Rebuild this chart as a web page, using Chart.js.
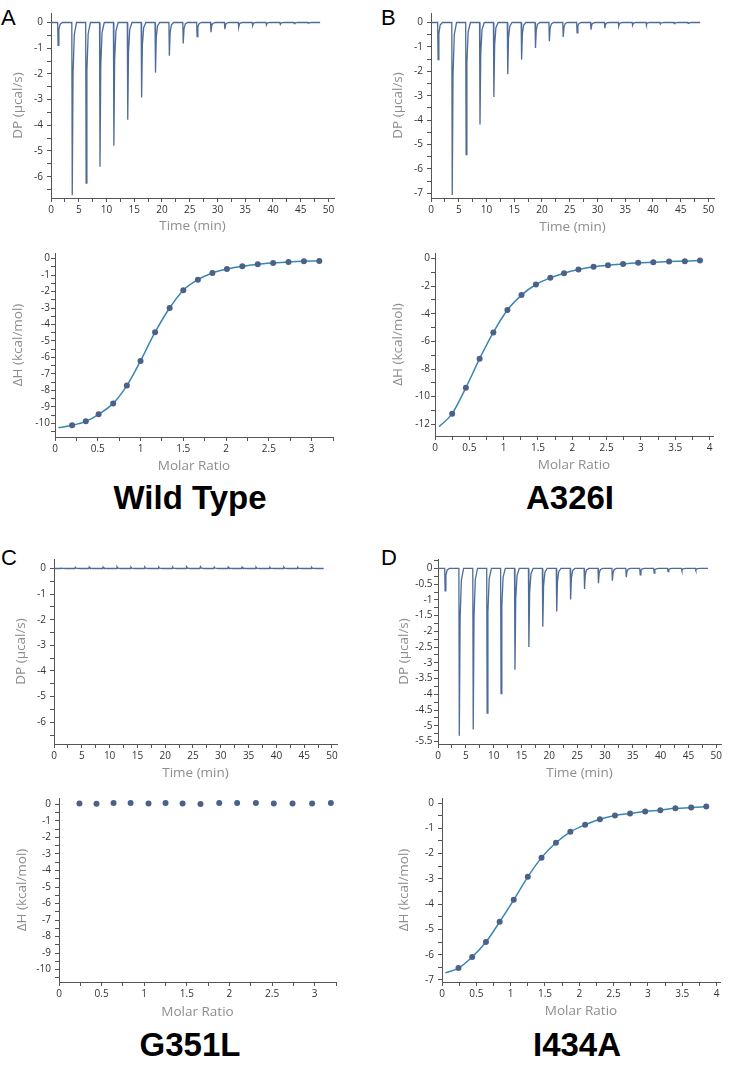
<!DOCTYPE html>
<html>
<head>
<meta charset="utf-8">
<script src="https://cdn.jsdelivr.net/npm/chart.js@4.4.1/dist/chart.umd.min.js"></script>
<style>
  body { margin: 0; background: #fff; width: 737px; height: 1066px; position: relative; overflow: hidden; font-family: "Liberation Sans", Arial, sans-serif; }
  canvas { position: absolute; }
  .tag { position: absolute; font-size: 22px; line-height: 22px; color: #000; }
  .name { position: absolute; width: 240px; text-align: center; font-weight: bold; font-size: 33px; line-height: 33px; color: #000; }
</style>
</head>
<body>
<div class="tag" style="left:1px;top:7px">A</div>
<div class="tag" style="left:381px;top:7px">B</div>
<div class="tag" style="left:1px;top:547px">C</div>
<div class="tag" style="left:381px;top:547px">D</div>
<div class="name" style="left:70px;top:481px">Wild Type</div>
<div class="name" style="left:450px;top:481px">A326I</div>
<div class="name" style="left:70px;top:1028px">G351L</div>
<div class="name" style="left:457px;top:1028px">I434A</div>

<canvas id="dpA"></canvas>
<canvas id="dhA"></canvas>
<canvas id="dpB"></canvas>
<canvas id="dhB"></canvas>
<canvas id="dpC"></canvas>
<canvas id="dhC"></canvas>
<canvas id="dpD"></canvas>
<canvas id="dhD"></canvas>

<script>
// injection times (min) and run end, shared by all four thermograms
const injTime = [1.2, 3.75, 6.25, 8.75, 11.25, 13.75, 16.25, 18.75, 21.25, 23.75, 26.25, 28.75, 31.25, 33.75, 36.25, 38.75, 41.25, 43.75, 46.25];
const runEnd = 48.5;

// peak heights (µcal/s)
const dpWT    = [-0.89, -6.72, -6.25, -5.61, -4.8, -3.78, -2.92, -1.95, -1.29, -0.82, -0.55, -0.38, -0.26, -0.18, -0.12, -0.09, -0.07, -0.04, -0.02];
const dpA326I = [-1.52, -7.07, -5.41, -4.18, -3.05, -2.12, -1.52, -1.04, -0.77, -0.59, -0.42, -0.29, -0.23, -0.15, -0.11, -0.08, -0.06, -0.04, -0.03];
const dpG351L = [0.02, 0.05, 0.06, 0.06, 0.07, 0.06, 0.06, 0.06, 0.06, 0.07, 0.07, 0.06, 0.06, 0.06, 0.06, 0.05, 0.06, 0.05, 0.05];
const dpI434A = [-0.71, -5.32, -5.12, -4.6, -3.98, -3.22, -2.5, -1.85, -1.37, -0.99, -0.65, -0.47, -0.39, -0.28, -0.2, -0.15, -0.1, -0.06, -0.05];

// integrated heats: molar ratio and ΔH (kcal/mol)
const ratioWT = [0.2, 0.36, 0.51, 0.68, 0.84, 1.0, 1.17, 1.34, 1.5, 1.67, 1.84, 2.01, 2.19, 2.37, 2.55, 2.73, 2.91, 3.09];
const dhWT    = [-10.12, -9.88, -9.45, -8.79, -7.71, -6.21, -4.47, -3.0, -1.92, -1.28, -0.87, -0.63, -0.47, -0.34, -0.26, -0.2, -0.16, -0.14];
const fitStartWT = [0.04, -10.26];

const ratioA326I = [0.25, 0.45, 0.65, 0.85, 1.055, 1.26, 1.47, 1.68, 1.88, 2.09, 2.31, 2.52, 2.74, 2.96, 3.18, 3.41, 3.64, 3.86];
const dhA326I    = [-11.23, -9.35, -7.25, -5.35, -3.73, -2.65, -1.88, -1.4, -1.06, -0.8, -0.6, -0.48, -0.39, -0.31, -0.27, -0.22, -0.19, -0.14];
const fitStartA326I = [0.06, -12.17];

const ratioG351L = [0.24, 0.44, 0.64, 0.84, 1.05, 1.25, 1.45, 1.66, 1.88, 2.09, 2.31, 2.52, 2.74, 2.97, 3.19];
const dhG351L    = [0.06, 0.04, 0.08, 0.08, 0.06, 0.08, 0.06, 0.02, 0.08, 0.08, 0.08, 0.06, 0.06, 0.06, 0.08];

const ratioI434A = [0.24, 0.44, 0.64, 0.84, 1.045, 1.25, 1.45, 1.66, 1.87, 2.085, 2.3, 2.52, 2.74, 2.96, 3.18, 3.4, 3.63, 3.85];
const dhI434A    = [-6.53, -6.09, -5.5, -4.7, -3.83, -2.92, -2.16, -1.57, -1.14, -0.86, -0.64, -0.49, -0.41, -0.33, -0.28, -0.21, -0.18, -0.14];
const fitStartI434A = [0.05, -6.72];

// labelled ticks
const timeLabels  = [0, 5, 10, 15, 20, 25, 30, 35, 40, 45, 50];
const ratio3Labels = [0, 0.5, 1, 1.5, 2, 2.5, 3];
const ratio4Labels = [0, 0.5, 1, 1.5, 2, 2.5, 3, 3.5, 4];
const dp6Labels  = [-6, -5, -4, -3, -2, -1, 0];
const dp7Labels  = [-7, -6, -5, -4, -3, -2, -1, 0];
const dp55Labels = [-5.5, -5, -4.5, -4, -3.5, -3, -2.5, -2, -1.5, -1, -0.5, 0];
const dh10Labels = [-10, -9, -8, -7, -6, -5, -4, -3, -2, -1, 0];
const dh12Labels = [-12, -10, -8, -6, -4, -2, 0];
const dh7Labels  = [-7, -6, -5, -4, -3, -2, -1, 0];

// styling
const ink = '#333', titleGrey = '#8e8e8e', axisCol = '#555';
const traceCol = '#4d6c98', fitCol = '#3a86b2', dotCol = '#4c6187';
const tickFont = { family: '"Open Sans", sans-serif', size: 10 };
const titleFont = { family: '"Open Sans", sans-serif', size: 13.5 };
const spikeDt = [0, 0.08, 0.22, 0.45, 0.85];
const spikeFrac = [0, 1, 0.3, 0.07, 0];

function withMinor(majors, lo, hi) {
  const half = (majors[1] - majors[0]) / 2;
  const out = [];
  for (let v = majors[0] - half; v <= majors[majors.length - 1] + half + 1e-9; v += half) {
    const r = Math.round(v * 1000) / 1000;
    if (r >= lo - 1e-9 && r <= hi + 1e-9) out.push(r);
  }
  return out;
}

function axis(min, max, majors, title, horizontal, size, pad) {
  const list = withMinor(majors, min, max);
  return {
    type: 'linear', min, max,
    border: { color: axisCol, width: 1 },
    grid: { drawOnChartArea: false, tickLength: 4, tickColor: axisCol },
    ticks: {
      autoSkip: false, maxRotation: 0, padding: pad, color: ink, font: tickFont,
      callback: v => majors.includes(v) ? String(v) : ''
    },
    title: { display: true, text: title, color: titleGrey, font: titleFont, padding: 0 },
    afterBuildTicks: s => { s.ticks = list.map(v => ({ value: v })); },
    afterFit: s => { if (horizontal) s.height = size; else s.width = size; }
  };
}

function trace(peaks) {
  const pts = [{ x: 0, y: 0 }];
  injTime.forEach((t, i) => spikeDt.forEach((dt, k) => pts.push({ x: t + dt, y: peaks[i] * spikeFrac[k] })));
  pts.push({ x: runEnd, y: 0 });
  return pts;
}

function pairs(xs, ys) { return xs.map((x, i) => ({ x, y: ys[i] })); }

function plot(id, box, xr, yr, datasets) {
  const cv = document.getElementById(id);
  const left = Math.round(box.titleX - 8.1);
  const top = Math.round(box.y0) - 14;
  const yw = Math.round(box.x0 - left);
  const xh = Math.round(box.titleY + 8.1 - box.y1);
  cv.style.left = left + 'px';
  cv.style.top = top + 'px';
  cv.width = Math.round(yw + box.x1 - box.x0 + 10);
  cv.height = Math.round(14 + box.y1 - box.y0 + xh);
  new Chart(cv, {
    type: 'line',
    data: { datasets },
    options: {
      responsive: false, animation: false, devicePixelRatio: 1,
      layout: { padding: { top: 14, right: 10, left: 0, bottom: 0 } },
      plugins: { legend: { display: false }, tooltip: { enabled: false } },
      scales: {
        x: axis(xr[0], xr[1], xr[2], xr[3], true, xh, 2.6),
        y: axis(yr[0], yr[1], yr[2], yr[3], false, yw, box.ypad)
      }
    }
  });
}

function dpSet(peaks) {
  return [{ data: trace(peaks), borderColor: traceCol, borderWidth: 1.3, pointRadius: 0, tension: 0 }];
}

function dhSet(xs, ys, start) {
  const sets = [{ data: pairs(xs, ys), showLine: false, pointRadius: 3, pointBackgroundColor: dotCol, pointBorderWidth: 0, order: 0 }];
  if (start) {
    sets.push({ data: [{ x: start[0], y: start[1] }].concat(pairs(xs, ys)), borderColor: fitCol, borderWidth: 1.5,
                pointRadius: 0, cubicInterpolationMode: 'monotone', order: 1 });
  }
  return sets;
}

const tTitle = 'Time (min)', dpTitle = 'DP (µcal/s)', mTitle = 'Molar Ratio', hTitle = 'ΔH (kcal/mol)';

plot('dpA', { x0: 51, y0: 12.7, x1: 334, y1: 197.3, titleX: 18, titleY: 225, ypad: 4 },
  [0, 51, timeLabels, tTitle], [-6.83, 0.37, dp6Labels, dpTitle], dpSet(dpWT));
plot('dhA', { x0: 55, y0: 252.7, x1: 333, y1: 436.7, titleX: 18.5, titleY: 465.3, ypad: 1 },
  [0, 3.25, ratio3Labels, mTitle], [-10.83, 0.34, dh10Labels, hTitle], dhSet(ratioWT, dhWT, fitStartWT));

plot('dpB', { x0: 431, y0: 12.7, x1: 714, y1: 197.3, titleX: 398, titleY: 226, ypad: 4 },
  [0, 51, timeLabels, tTitle], [-7.19, 0.39, dp7Labels, dpTitle], dpSet(dpA326I));
plot('dhB', { x0: 435, y0: 252.7, x1: 713, y1: 436, titleX: 398, titleY: 465, ypad: 1 },
  [0, 4.05, ratio4Labels, mTitle], [-12.85, 0.4, dh12Labels, hTitle], dhSet(ratioA326I, dhA326I, fitStartA326I));

plot('dpC', { x0: 54.3, y0: 559.3, x1: 337.3, y1: 744, titleX: 21, titleY: 773, ypad: 4 },
  [0, 50.9, timeLabels, tTitle], [-6.85, 0.37, dp6Labels, dpTitle], dpSet(dpG351L));
plot('dhC', { x0: 59, y0: 798.3, x1: 336, y1: 982, titleX: 22.5, titleY: 1012, ypad: 4 },
  [0, 3.25, ratio3Labels, mTitle], [-10.75, 0.39, dh10Labels, hTitle], dhSet(ratioG351L, dhG351L, null));

plot('dpD', { x0: 437.7, y0: 559.3, x1: 720.7, y1: 744.3, titleX: 404, titleY: 773, ypad: 1.5 },
  [0, 50.85, timeLabels, tTitle], [-5.58, 0.3, dp55Labels, dpTitle], dpSet(dpI434A));
plot('dhD', { x0: 442.3, y0: 798.3, x1: 720, y1: 982.7, titleX: 404, titleY: 1012, ypad: 4 },
  [0, 4.05, ratio4Labels, mTitle], [-7.08, 0.2, dh7Labels, hTitle], dhSet(ratioI434A, dhI434A, fitStartI434A));
</script>
</body>
</html>
